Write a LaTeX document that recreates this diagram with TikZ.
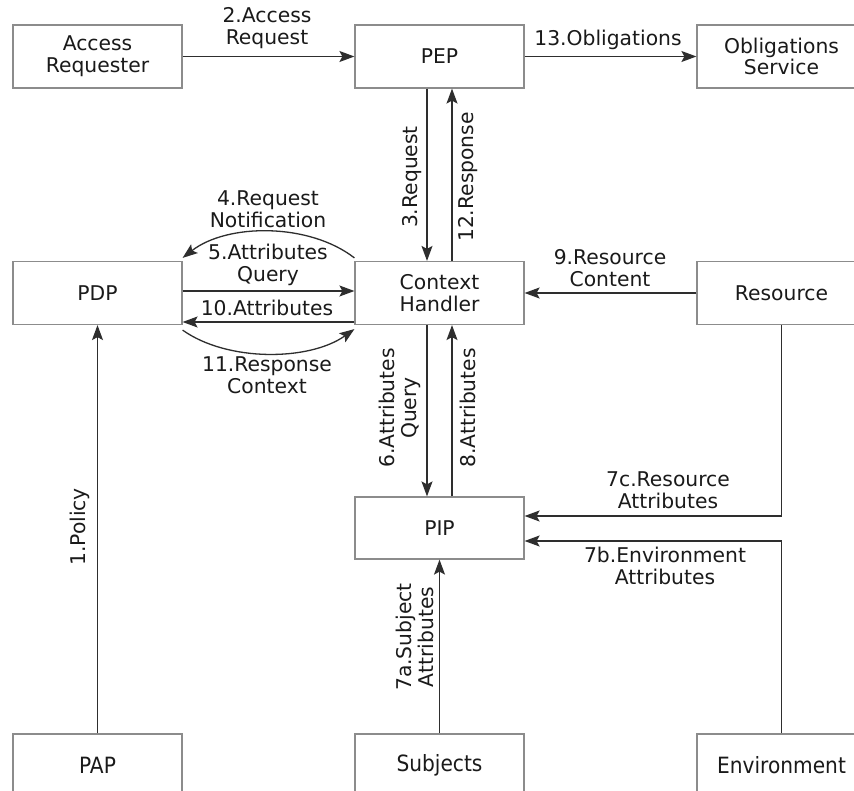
\documentclass[tikz,border=0pt]{standalone}
\usepackage{fontspec}
\setmainfont{DejaVu Sans}
\newfontfamily\narrowfont[FakeStretch=0.9]{DejaVu Sans}
\usetikzlibrary{arrows.meta}
\definecolor{inkc}{HTML}{1A1A1A}
\definecolor{linec}{HTML}{2E2E2E}
\definecolor{framec}{HTML}{8C8C8C}

\begin{document}
\begin{tikzpicture}[x=1pt,y=-1pt,
  box/.style={draw=framec, line width=1.2pt, minimum width=169pt, minimum height=63pt,
    inner sep=0pt, align=center, text=inkc, font=\fontsize{20.3}{21.8}\selectfont},
  basebox/.style={box, font=\narrowfont\fontsize{22.4}{24}\selectfont},
  lbl/.style={align=center, text=inkc, inner sep=0pt, font=\fontsize{20.3}{21.8}\selectfont},
  vlbl/.style={lbl, rotate=90},
  arr/.style={draw=linec, line width=1.3pt, -{Stealth[length=15pt,width=11pt,inset=3pt]}},
]
\useasboundingbox (0,0) rectangle (854,791);
\clip (0,0) rectangle (854,791);
\fill[white] (0,0) rectangle (854,791);

% components
\node[box] (areq) at (97.5,56.5)  {Access\\Requester};
\node[box] (pep)  at (439.5,56.5) {PEP};
\node[box] (obl)  at (781.5,56.5) {Obligations\\Service};
\node[box] (pdp)  at (97.5,293)   {PDP};
\node[box] (ch)   at (439.5,293)  {Context\\Handler};
\node[box] (res)  at (781.5,293)  {Resource};
\node[box, minimum height=62pt] (pip) at (439.5,528) {PIP};
\node[basebox] (pap)  at (97.5,765.5)  {PAP};
\node[basebox] (subj) at (439.5,765.5) {Subjects};
\node[basebox] (env)  at (781.5,765.5) {Environment};

% message flows
\draw[arr] (areq.east) -- (pep.west);
\draw[arr] (pep.east) -- (obl.west);
\draw[arr] ([xshift=-12.5pt]pep.south) -- ([xshift=-12.5pt]ch.north);
\draw[arr] ([xshift=12.5pt]ch.north) -- ([xshift=12.5pt]pep.south);
\draw[arr] ([yshift=3pt]ch.north west) .. controls +(-45,-35) and +(45,-35) .. ([yshift=3pt]pdp.north east);
\draw[arr] ([yshift=2pt]pdp.east) -- ([yshift=2pt]ch.west);
\draw[arr] ([yshift=-29pt]ch.west) -- ([yshift=-29pt]pdp.east);
\draw[arr] ([yshift=-5pt]pdp.south east) .. controls +(45,32) and +(-45,32) .. ([yshift=-4pt]ch.south west);
\draw[arr] (res.west) -- (ch.east);
\draw[arr] ([xshift=-12.5pt]ch.south) -- ([xshift=-12.5pt]pip.north);
\draw[arr] ([xshift=12.5pt]pip.north) -- ([xshift=12.5pt]ch.south);
\draw[arr] (res.south) |- ([yshift=12pt]pip.east);
\draw[arr] (env.north) |- ([yshift=-13pt]pip.east);
\draw[arr] (subj.north) -- (pip.south);
\draw[arr] (pap.north) -- (pdp.south);

% flow labels
\node[lbl] (l2)  at (267,28)  {2.Access\\Request};
\node[lbl] (l13) at (608,40)  {13.Obligations};
\node[vlbl] (l3)  at (412,177) {3.Request};
\node[vlbl] (l12) at (468,177) {12.Response};
\node[lbl] (l4)  at (268,209) {4.Request\\Notification};
\node[lbl] (l5)  at (268,265) {5.Attributes\\Query};
\node[lbl] (l10) at (267,308) {10.Attributes};
\node[lbl] (l11) at (267,375) {11.Response\\Context};
\node[lbl] (l9)  at (610,268) {9.Resource\\Content};
\node[vlbl] (l6)  at (400,408) {6.Attributes\\Query};
\node[vlbl] (l8)  at (468,408) {8.Attributes};
\node[lbl] (l7c) at (668,490) {7c.Resource\\Attributes};
\node[lbl] (l7b) at (665,566) {7b.Environment\\Attributes};
\node[vlbl] (l7a) at (415,637) {7a.Subject\\Attributes};
\node[vlbl] (l1)  at (80,527)  {1.Policy};
\end{tikzpicture}
\end{document}
